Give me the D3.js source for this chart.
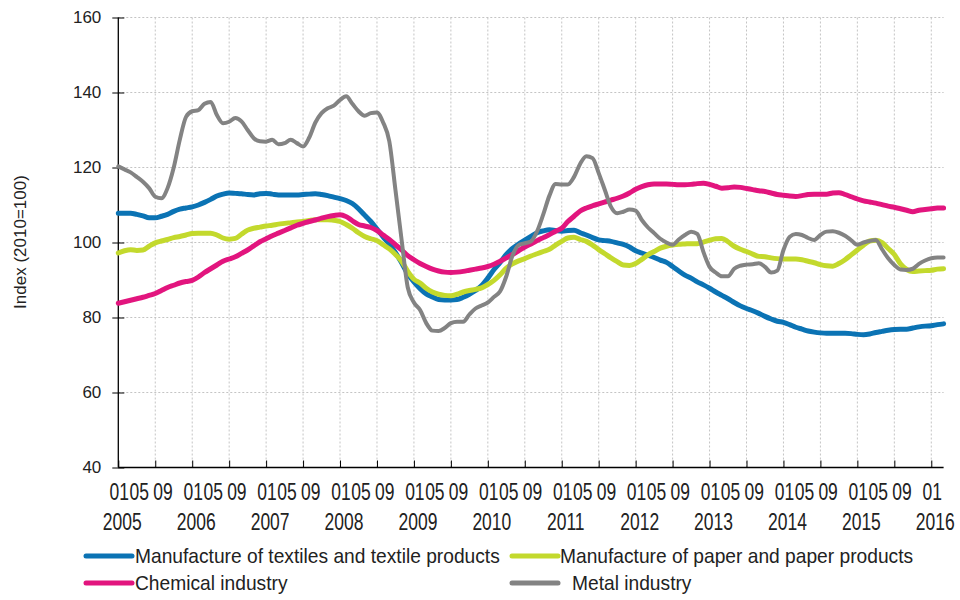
<!DOCTYPE html>
<html>
<head>
<meta charset="utf-8">
<script src="https://cdn.jsdelivr.net/npm/d3@7"></script>
<style>
  html, body { margin: 0; padding: 0; background: #fff; }
  svg { display: block; font-family: "Liberation Sans", Arial, sans-serif; }
</style>
</head>
<body>
<svg id="chart" width="960" height="600"></svg>
<script>
// ---- data (monthly index 2010=100, Jan 2005 .. Mar 2016) ----
const startYear = 2005;
const endYear = 2016;
const seriesNames = [
  "Manufacture of textiles and textile products",
  "Manufacture of paper and paper products",
  "Chemical industry",
  "Metal industry"
];
const textiles = [107.8,107.8,107.8,107.5,107.1,106.6,106.6,107,107.5,108.3,108.9,109.2,109.5,110,110.7,111.5,112.4,112.9,113.2,113.1,113,112.8,112.7,113,113.1,112.9,112.7,112.7,112.7,112.7,112.8,112.9,113,112.8,112.5,112.1,111.7,111.2,110.4,109,107.3,105.6,103.6,101.5,99.6,97.3,94.6,91.6,89.5,87.7,86.3,85.5,84.8,84.7,84.7,84.8,85.4,86.2,87.2,88.5,90.5,92.8,94.7,96.8,98.4,99.6,100.6,101.6,102.6,103.1,103.4,103.2,103,103.2,103.3,102.6,102,101.3,100.7,100.5,100.3,99.9,99.5,98.8,97.8,97.2,96.6,96,95.3,94.7,93.6,92.4,91.3,90.5,89.5,88.7,87.8,86.8,85.9,85,84,83.1,82.4,81.8,81.1,80.3,79.6,79,78.7,78.1,77.4,76.9,76.4,76.1,75.9,75.8,75.8,75.8,75.8,75.7,75.5,75.4,75.6,76,76.3,76.6,76.8,76.9,76.9,77.2,77.5,77.7,77.8,78.1,78.3];
const paper = [97.2,97.8,98.1,97.9,98,99,99.9,100.4,100.8,101.3,101.6,102,102.4,102.5,102.5,102.5,102,101.2,100.9,101.1,102.2,103.3,103.8,104.1,104.4,104.6,104.9,105.1,105.3,105.5,105.6,105.9,106.1,106.1,106.1,105.9,105.6,104.8,103.8,102.6,101.6,101,100.5,99.4,98.3,96.8,95,92.3,90.2,89.2,87.8,86.8,86.2,85.9,85.8,86.2,86.8,87.2,87.5,87.9,88.8,89.9,91.4,93.2,94.3,95.1,95.7,96.4,97,97.6,98.2,99.3,100.3,101.2,101.4,100.8,100.3,99.3,98.1,97,95.9,94.9,94,93.9,94.4,95.5,96.7,97.6,98.5,99,99.3,99.5,99.6,99.7,99.7,100.1,100.6,101,101.1,100.2,99,98.2,97.6,96.9,96.3,96.2,95.9,95.7,95.6,95.6,95.6,95.4,95,94.6,94.1,93.8,93.7,94.4,95.4,96.7,98,99.3,100.4,100.6,100,98.4,96.8,94.3,92.8,92.3,92.4,92.5,92.6,92.9,93];
const chemical = [83.8,84.2,84.6,85,85.4,85.9,86.4,87.2,88,88.6,89.2,89.6,89.9,90.8,92,93,94,95,95.6,96.2,97.1,98,99.1,100.2,101,101.8,102.5,103.2,103.9,104.6,105.1,105.6,106,106.5,106.9,107.2,107.4,106.9,105.8,104.8,104.4,104,103.2,102,100.8,99.4,98,96.5,95.4,94.4,93.6,92.9,92.4,92.1,92,92.1,92.3,92.6,92.9,93.2,93.6,94.2,95,95.9,96.8,97.8,98.8,99.6,100.5,101.3,102.1,103,103.8,105.6,107,108.4,109.2,109.8,110.3,110.8,111.3,111.8,112.4,113.2,114.2,114.9,115.4,115.6,115.6,115.6,115.5,115.4,115.4,115.5,115.7,115.8,115.5,115,114.5,114.6,114.8,114.7,114.4,114.1,113.8,113.6,113.2,112.8,112.6,112.4,112.3,112.5,112.8,112.9,112.9,112.9,113.2,113.3,112.8,112.2,111.6,111.1,110.8,110.5,110.1,109.7,109.4,109,108.6,108.2,108.6,108.8,109,109.2,109.2];
const metal = [120.3,119.5,118.7,117.5,116.2,114.5,112.2,111.8,114.5,120,127.5,133.5,135,135.3,137,137.5,134,131.8,132.2,133.2,132.3,130,127.8,127,126.9,127.4,126.2,126.5,127.4,126.5,125.6,128,132,134.5,135.8,136.5,138,139,137,135,133.8,134.5,134.7,132,127,114,100.7,88,84,82,78.5,76.5,76.4,77.2,78.5,78.9,78.9,80.8,82.4,83.2,84,85.5,87,91,96.5,99.3,99.8,100.3,103,107.5,112.5,115.6,115.5,115.5,117.5,121,123,122.5,118.5,114,109.5,107.8,108.2,108.8,108.5,106,104,102.5,101,100,99.4,100.8,102,102.9,102.3,97.5,93.5,92,91,91,93,93.8,94.1,94.2,94.5,93.5,92,92.5,98,101.5,102.3,102,101.2,100.7,102,102.9,103,102.6,101.8,100.6,99.4,100,100.4,100.7,98.2,95.8,94,92.8,92.7,93,94.3,95.2,95.8,96,96];

const yTicks = [40, 60, 80, 100, 120, 140, 160];
const monthTickLabels = ["01", "05", "09"];
const yearLabels = ["2005","2006","2007","2008","2009","2010","2011","2012","2013","2014","2015","2016"];
const yTitle = "Index (2010=100)";
const colors = ["#0b73b4", "#c3d92d", "#e2157e", "#838383"];
const widths = [5, 5, 5, 4];

// ---- layout ----
const svg = d3.select("#chart");
const nPts = textiles.length;
const x = d3.scaleLinear().domain([0, nPts - 1]).range([118.3, 943.6]);
const y = d3.scaleLinear().domain([40, 160]).range([467.5, 17.5]);
const plotRight = x(nPts - 1);
const halfYearIdx = d3.range(0, nPts, 6);

// gridlines
const grid = svg.append("g");
grid.selectAll("line.h").data(yTicks.filter(v => v > 40)).join("line")
  .attr("x1", x(0)).attr("x2", plotRight)
  .attr("y1", d => y(d)).attr("y2", d => y(d))
  .attr("stroke", "#c4c4c4").attr("stroke-width", 1).attr("stroke-dasharray", "2,2");
grid.selectAll("line.v").data(halfYearIdx.filter(i => i > 0)).join("line")
  .attr("x1", d => x(d)).attr("x2", d => x(d))
  .attr("y1", y(160)).attr("y2", y(40))
  .attr("stroke", "#c4c4c4").attr("stroke-width", 1).attr("stroke-dasharray", "2,2");

// y axis
const yAxis = d3.axisLeft(y).tickValues(yTicks).tickSize(0).tickPadding(0).tickFormat(d3.format("d"));
const gy = svg.append("g").attr("transform", `translate(${x(0)},0)`).call(yAxis);
gy.select(".domain").remove();
gy.selectAll(".tick text").attr("x", -17).attr("font-size", 17).attr("fill", "#222")
  .attr("font-family", '"Liberation Sans", Arial, sans-serif');
gy.selectAll(".tick").append("line").attr("x1", -6).attr("x2", 6).attr("stroke", "#000");
svg.append("line").attr("x1", x(0)).attr("x2", x(0)).attr("y1", y(160)).attr("y2", y(40))
  .attr("stroke", "#000").attr("stroke-width", 1.3);

// x axis
const xAxis = d3.axisBottom(x).tickValues(halfYearIdx).tickSize(0).tickFormat("");
const gx = svg.append("g").attr("transform", `translate(0,${y(40)})`).call(xAxis);
gx.select(".domain").remove();
gx.selectAll(".tick").append("line").attr("y1", 0).attr("y2", -7).attr("stroke", "#000");
svg.append("line").attr("x1", x(0)).attr("x2", plotRight).attr("y1", y(40)).attr("y2", y(40))
  .attr("stroke", "#000").attr("stroke-width", 1.3);

// x labels
const step = x(1) - x(0);
const monthOffsets = [0.15, 3.4, 7.25];
const lab = svg.append("g").attr("font-size", 17.5).attr("fill", "#222").attr("text-anchor", "middle");
yearLabels.forEach((yr, yi) => {
  const jan = yi * 12;
  monthTickLabels.forEach((ml, mi) => {
    if (jan + mi * 4 > nPts - 1) return;
    const px = x(jan) + monthOffsets[mi] * step;
    lab.append("text").attr("transform", `translate(${px},500) scale(1,1.35)`).text(ml);
  });
  lab.append("text").attr("transform", `translate(${x(jan) + 4},530) scale(1,1.35)`).text(yr);
});

// y title
svg.append("text").attr("transform", "translate(26,242) rotate(-90)")
  .attr("text-anchor", "middle").attr("font-size", 17).attr("fill", "#222").text(yTitle);

// lines
const seriesData = [textiles, paper, chemical, metal];
const line = d3.line().x((d, i) => x(i)).y(d => y(d)).curve(d3.curveMonotoneX);
svg.append("g").selectAll("path").data(seriesData).join("path")
  .attr("d", line).attr("fill", "none")
  .attr("stroke", (d, i) => colors[i]).attr("stroke-width", (d, i) => widths[i])
  .attr("stroke-linejoin", "round").attr("stroke-linecap", "round");

// legend
const legendItems = [
  { i: 0, x: 86, y: 556, tx: 135 },
  { i: 1, x: 512, y: 556, tx: 560 },
  { i: 2, x: 86, y: 583, tx: 135 },
  { i: 3, x: 512, y: 583, tx: 572 }
];
const lg = svg.append("g");
legendItems.forEach(it => {
  lg.append("line").attr("x1", it.x).attr("x2", it.x + 46).attr("y1", it.y).attr("y2", it.y)
    .attr("stroke", colors[it.i]).attr("stroke-width", 5).attr("stroke-linecap", "round");
  lg.append("text").attr("transform", `translate(${it.tx},${it.y + 7}) scale(1,1.1)`)
    .attr("font-size", 19.2).attr("fill", "#222").text(seriesNames[it.i]);
});
</script>
</body>
</html>
